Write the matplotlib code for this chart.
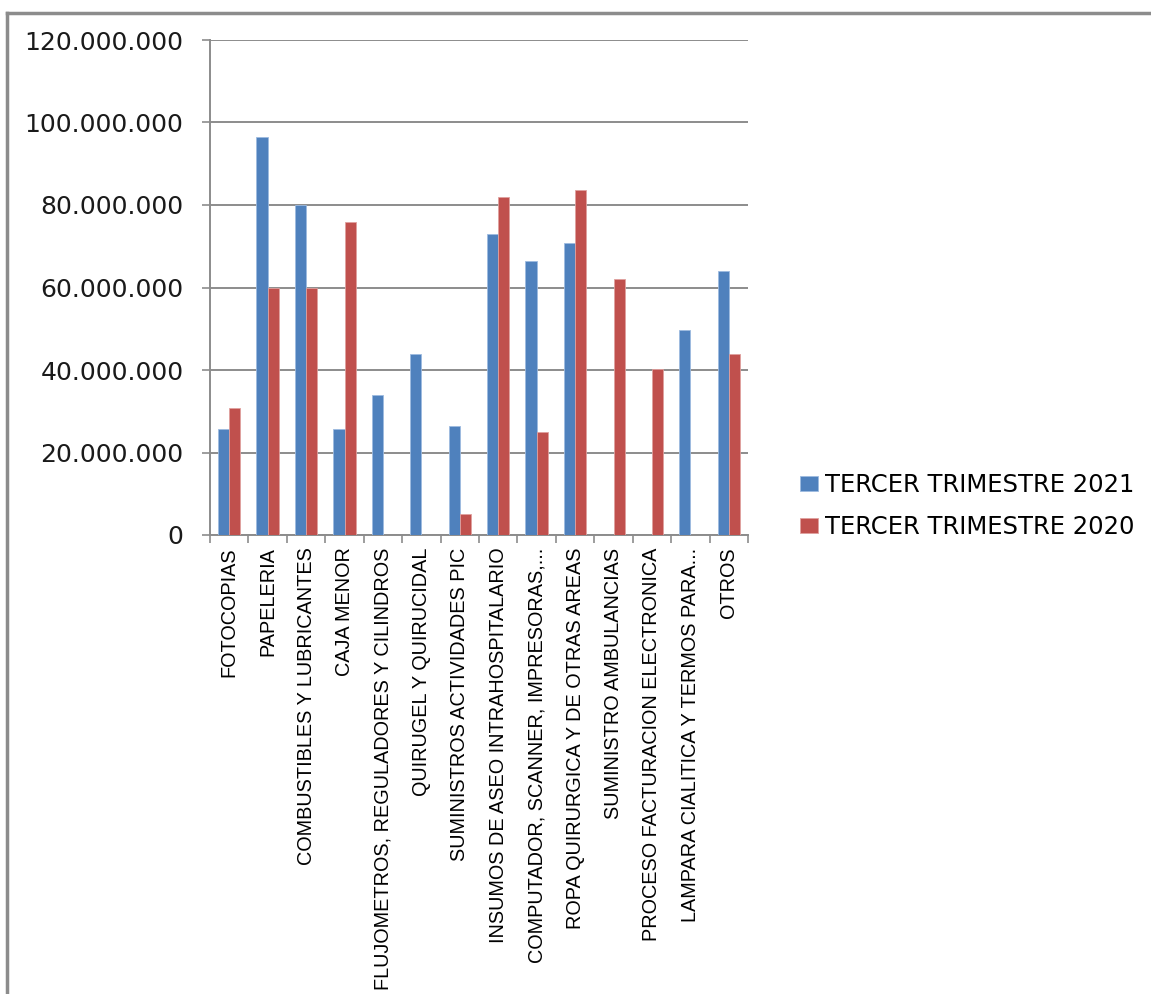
import matplotlib.pyplot as plt
import numpy as np
from matplotlib.ticker import FuncFormatter, FixedLocator
from matplotlib.lines import Line2D

categorias = ["FOTOCOPIAS", "PAPELERIA", "COMBUSTIBLES Y LUBRICANTES", "CAJA MENOR",
              "FLUJOMETROS, REGULADORES Y CILINDROS", "QUIRUGEL Y QUIRUCIDAL",
              "SUMINISTROS ACTIVIDADES PIC", "INSUMOS DE ASEO INTRAHOSPITALARIO",
              "COMPUTADOR, SCANNER, IMPRESORAS,...", "ROPA QUIRURGICA Y DE OTRAS AREAS",
              "SUMINISTRO AMBULANCIAS", "PROCESO FACTURACION ELECTRONICA",
              "LAMPARA CIALITICA Y TERMOS PARA...", "OTROS"]
t2021 = [25800000, 96400000, 80000000, 25800000, 34000000, 43900000, 26400000,
         73000000, 66500000, 70700000, 0, 0, 49800000, 64000000]
t2020 = [30900000, 60000000, 60000000, 76000000, 0, 0, 5200000,
         82000000, 25000000, 83600000, 62000000, 40200000, 0, 44000000]
nombres = ["TERCER TRIMESTRE 2021", "TERCER TRIMESTRE 2020"]

azul = "#4f81bd"
rojo = "#c0504d"
gris = "#8c8c8c"

fig = plt.figure(figsize=(11.51, 9.94), dpi=100)
ax = fig.add_axes([210/1151, 1-535/994, (748-210)/1151, (535-40)/994])

x = np.arange(len(categorias))
w = 0.29
b1 = ax.bar(x - w/2, t2021, w, color=azul, edgecolor="#9dbbe0", linewidth=0.6, label=nombres[0], zorder=3)
b2 = ax.bar(x + w/2, t2020, w, color=rojo, edgecolor="#e0a09e", linewidth=0.6, label=nombres[1], zorder=3)

ax.set_xlim(-0.5, len(categorias) - 0.5)
ax.set_ylim(0, 120000000)
ax.set_yticks(np.arange(0, 120000001, 20000000))
ax.yaxis.set_major_formatter(FuncFormatter(lambda v, p: "{:,.0f}".format(v).replace(",", ".")))
ax.grid(axis="y", color=gris, linewidth=1.4, zorder=0)
ax.tick_params(axis="y", direction="out", length=6, width=1.2, color=gris, pad=13,
               labelsize=18, labelcolor="#1a1a1a")

ax.set_xticks(x)
ax.set_xticklabels(categorias, rotation=90, ha="center", va="top",
                   family=["Liberation Sans", "DejaVu Sans"], fontsize=14.3)
ax.xaxis.set_minor_locator(FixedLocator(np.arange(-0.5, len(categorias), 1)))
ax.tick_params(axis="x", which="major", length=0, pad=9)
ax.tick_params(axis="x", which="minor", direction="out", length=6, width=1.2, color=gris)

for s in ["top", "right"]:
    ax.spines[s].set_visible(False)
for s in ["left", "bottom"]:
    ax.spines[s].set_color(gris)
    ax.spines[s].set_linewidth(1.4)

ax.legend(handles=[b1, b2], loc="center left", bbox_to_anchor=(778/1151, 1-506/994),
          bbox_transform=fig.transFigure, frameon=False, fontsize=17.5,
          handlelength=0.75, handleheight=0.6, handletextpad=0.3, labelspacing=0.75)

# marco exterior
fig.add_artist(Line2D([7/1151, 7/1151], [0, 1-13/994], color=gris, linewidth=2.5, transform=fig.transFigure))
fig.add_artist(Line2D([7/1151, 1], [1-13/994, 1-13/994], color=gris, linewidth=2.5, transform=fig.transFigure))

fig.savefig("out.png", dpi=100)
